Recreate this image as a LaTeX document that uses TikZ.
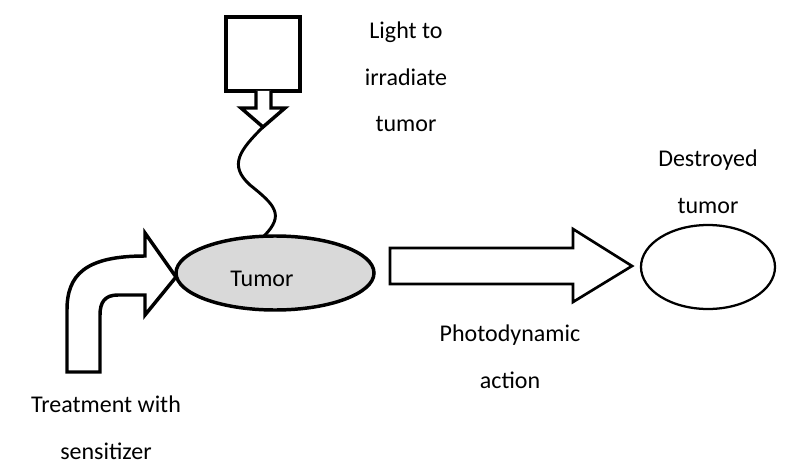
\documentclass[tikz,border=0pt]{standalone}
\usepackage{fontspec}
\setmainfont{Carlito}
\usetikzlibrary{shapes.geometric}
\begin{document}
\begin{tikzpicture}[x=0.75pt,y=-0.75pt,
  lbl/.style={font=\fontsize{18}{35}\selectfont,align=center,inner sep=0pt},
  thick3/.style={line width=2.6pt,line join=miter},
  thin2/.style={line width=1.7pt}]
\useasboundingbox (0,0) rectangle (796,467);
% lamp
\draw[thick3] (226,17) rectangle (300,91);
\draw[thick3,fill=white] (256,91) -- (256,108) -- (241,108) -- (263,127) -- (285,108) -- (271,108) -- (271,91);
\coordinate (lamptip) at (263,127);
% tumor
\node[draw,thick3,fill=black!15,ellipse,minimum width=148.5pt,minimum height=55.5pt,inner sep=0pt] (tumor) at (275,273) {};
\node[lbl] at (262,279) {Tumor};
\draw[line width=2.2pt] (lamptip) .. controls (240,150) and (228,165) .. (250,185) .. controls (275,205) and (285,215) .. (264,236);
% curved arrow
\draw[thick3,fill=white] (67,372) -- (67,310) .. controls (67,275) and (85,256) .. (145,256) -- (145,233) -- (176,277) -- (145,315) -- (145,295) -- (118,295) .. controls (105,295) and (100,302) .. (100,315) -- (100,372) -- cycle;
% big arrow
\draw[line width=2pt,line join=miter,fill=white] (390,248) -- (573,248) -- (573,229) -- (632,266) -- (573,302) -- (573,284) -- (390,284) -- cycle;
% destroyed
\node[draw,thin2,ellipse,minimum width=100.5pt,minimum height=63pt,inner sep=0pt] (dest) at (708,267) {};
\node[lbl] at (406,77) {Light to\\irradiate\\tumor};
\node[lbl] at (708,182) {Destroyed\\tumor};
\node[lbl] at (510,357) {Photodynamic\\action};
\node[lbl] at (106,428) {Treatment with\\sensitizer};
\end{tikzpicture}
\end{document}
